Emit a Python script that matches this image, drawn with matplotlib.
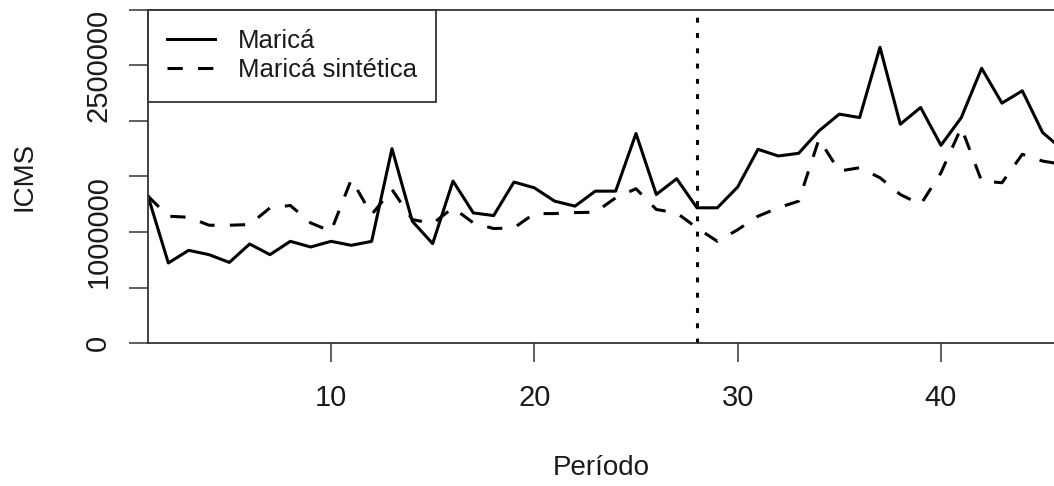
import matplotlib
matplotlib.use("Agg")
import matplotlib.pyplot as plt

plt.rcParams['font.family'] = ['Liberation Sans', 'DejaVu Sans']

periodo = list(range(1, 47))
marica = [1323000, 721000, 835000, 796000, 726000, 892000, 796000, 916000, 865000, 916000,
          880000, 916000, 1751000, 1097000, 895000, 1459000, 1172000, 1148000, 1450000, 1398000,
          1278000, 1233000, 1368000, 1368000, 1887000, 1338000, 1480000, 1218000, 1218000, 1405000,
          1745000, 1685000, 1709000, 1911000, 2062000, 2031000, 2664000, 1971000, 2122000, 1781000,
          2031000, 2475000, 2161000, 2272000, 1896000, 1740000]
marica_sint = [1323000, 1142000, 1133000, 1061000, 1061000, 1067000, 1218000, 1239000, 1082000, 1006000,
               1474000, 1157000, 1383000, 1112000, 1076000, 1218000, 1082000, 1031000, 1037000, 1166000,
               1166000, 1175000, 1178000, 1308000, 1390000, 1203000, 1172000, 1037000, 916000, 1020000,
               1142000, 1218000, 1278000, 1836000, 1549000, 1579000, 1489000, 1338000, 1248000, 1534000,
               1941000, 1459000, 1444000, 1700000, 1639000, 1609000]
intervencao = 28
yticks = [0, 500000, 1000000, 1500000, 2000000, 2500000, 3000000]
ytick_labels = ["0", "", "1000000", "", "", "2500000", ""]
xticks = [10, 20, 30, 40]
series_labels = ["Maricá", "Maricá sintética"]

W, H = 1054, 486
fig = plt.figure(figsize=(W / 100, H / 100), dpi=100)
ax_left, ax_bottom, ax_top = 148, 343, 10
ax = fig.add_axes([ax_left / W, (H - ax_bottom) / H, 1 - ax_left / W, (ax_bottom - ax_top) / H])

lw = 2.2
ax.plot(periodo, marica, color='black', lw=lw, solid_joinstyle='round', label=series_labels[0])
ax.plot(periodo, marica_sint, color='black', lw=lw, linestyle=(0, (5, 5)), label=series_labels[1])
ax.axvline(intervencao, color='black', lw=lw, linestyle=(0, (1.6, 3.4)))

ax.set_xlim(1, 1 + (W - 149) / 20.31)
ax.set_ylim(0, 3000000)

tfs = 21
ax.set_xticks(xticks)
ax.set_xticklabels([str(t) for t in xticks], fontsize=tfs, color='#1a1a1a')
ax.set_yticks(yticks)
ax.set_yticklabels(ytick_labels, fontsize=tfs, rotation=90, va='center', color='#1a1a1a')
ax.tick_params(axis='both', length=13.7, width=1.1, color='#333333')
ax.tick_params(axis='x', pad=16.0)
ax.tick_params(axis='y', pad=12.0)

for s in ['left', 'bottom', 'top']:
    ax.spines[s].set_linewidth(1.3)
    ax.spines[s].set_color('#333333')
ax.spines['right'].set_visible(False)

lfs = 20
ax.set_xlabel("Período", fontsize=lfs, color='#1a1a1a', va='center')
ax.xaxis.set_label_coords(0.5, (ax_bottom - 468) / (ax_bottom - ax_top))
ax.set_ylabel("ICMS", fontsize=lfs, color='#1a1a1a', va='center')
ax.yaxis.set_label_coords((24 - ax_left) / (W - ax_left), 0.5)

leg = ax.legend(loc='upper left', bbox_to_anchor=(0, 1), borderaxespad=0,
                fancybox=False, framealpha=1, edgecolor='#333333',
                prop={'size': 18.5}, handlelength=1.85, handletextpad=0.9,
                borderpad=0.75, labelspacing=0.2)
leg.get_frame().set_linewidth(1.3)
for t in leg.get_texts():
    t.set_color('#1a1a1a')

fig.savefig("out.png", dpi=100)
